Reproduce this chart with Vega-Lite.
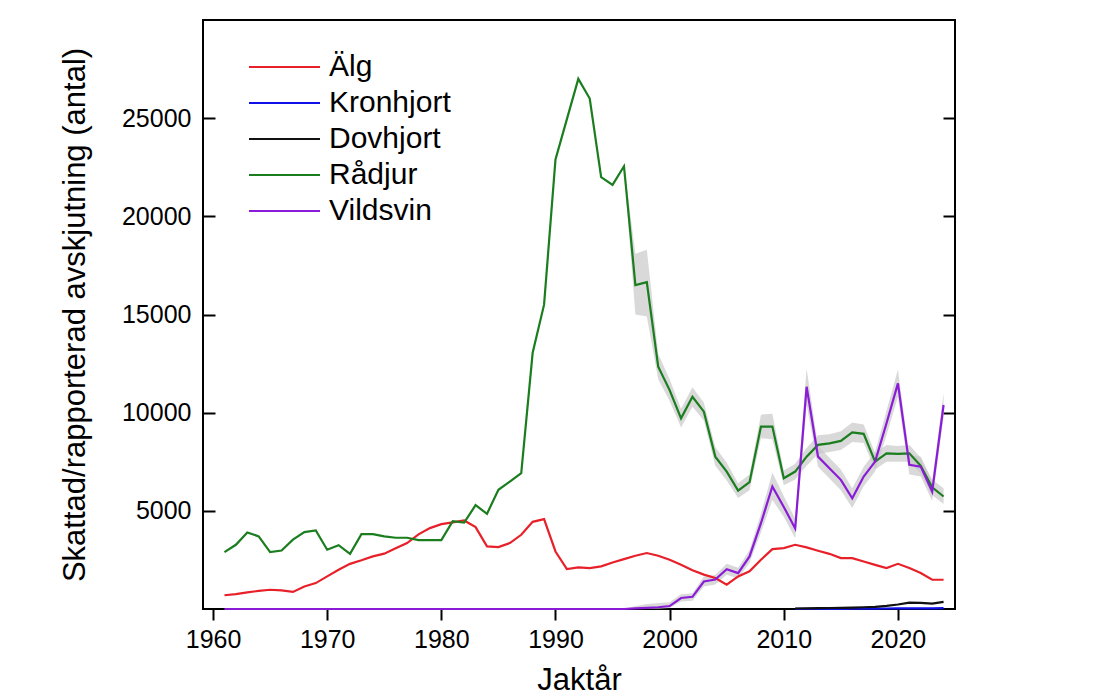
{
  "$schema": "https://vega.github.io/schema/vega-lite/v6.json",
  "width": 752,
  "height": 589,
  "autosize": {"type": "none"},
  "padding": {"left": 203, "top": 20, "right": 142, "bottom": 88},
  "background": "white",
  "config": {
    "font": "Liberation Sans",
    "view": {"stroke": "black", "strokeWidth": 2},
    "axis": {"labelColor": "black", "titleColor": "black", "tickColor": "black", "titleFontWeight": "normal", "grid": false, "domain": false}
  },
  "datasets": {
    "series": [
      {"year":1961,"art":"Älg","value":700},{"year":1962,"art":"Älg","value":760},{"year":1963,"art":"Älg","value":850},{"year":1964,"art":"Älg","value":920},{"year":1965,"art":"Älg","value":980},{"year":1966,"art":"Älg","value":950},{"year":1967,"art":"Älg","value":870},{"year":1968,"art":"Älg","value":1150},{"year":1969,"art":"Älg","value":1320},{"year":1970,"art":"Älg","value":1660},
      {"year":1971,"art":"Älg","value":2000},{"year":1972,"art":"Älg","value":2300},{"year":1973,"art":"Älg","value":2480},{"year":1974,"art":"Älg","value":2680},{"year":1975,"art":"Älg","value":2820},{"year":1976,"art":"Älg","value":3090},{"year":1977,"art":"Älg","value":3360},{"year":1978,"art":"Älg","value":3800},{"year":1979,"art":"Älg","value":4120},{"year":1980,"art":"Älg","value":4320},
      {"year":1981,"art":"Älg","value":4410},{"year":1982,"art":"Älg","value":4510},{"year":1983,"art":"Älg","value":4170},{"year":1984,"art":"Älg","value":3190},{"year":1985,"art":"Älg","value":3150},{"year":1986,"art":"Älg","value":3360},{"year":1987,"art":"Älg","value":3780},{"year":1988,"art":"Älg","value":4440},{"year":1989,"art":"Älg","value":4580},{"year":1990,"art":"Älg","value":2930},
      {"year":1991,"art":"Älg","value":2030},{"year":1992,"art":"Älg","value":2120},{"year":1993,"art":"Älg","value":2085},{"year":1994,"art":"Älg","value":2170},{"year":1995,"art":"Älg","value":2370},{"year":1996,"art":"Älg","value":2540},{"year":1997,"art":"Älg","value":2710},{"year":1998,"art":"Älg","value":2850},{"year":1999,"art":"Älg","value":2710},{"year":2000,"art":"Älg","value":2510},
      {"year":2001,"art":"Älg","value":2250},{"year":2002,"art":"Älg","value":1970},{"year":2003,"art":"Älg","value":1750},{"year":2004,"art":"Älg","value":1580},{"year":2005,"art":"Älg","value":1240},{"year":2006,"art":"Älg","value":1660},{"year":2007,"art":"Älg","value":1920},{"year":2008,"art":"Älg","value":2510},{"year":2009,"art":"Älg","value":3050},{"year":2010,"art":"Älg","value":3100},
      {"year":2011,"art":"Älg","value":3270},{"year":2012,"art":"Älg","value":3140},{"year":2013,"art":"Älg","value":2970},{"year":2014,"art":"Älg","value":2810},{"year":2015,"art":"Älg","value":2590},{"year":2016,"art":"Älg","value":2590},{"year":2017,"art":"Älg","value":2420},{"year":2018,"art":"Älg","value":2250},{"year":2019,"art":"Älg","value":2085},{"year":2020,"art":"Älg","value":2300},
      {"year":2021,"art":"Älg","value":2085},{"year":2022,"art":"Älg","value":1830},{"year":2023,"art":"Älg","value":1490},{"year":2024,"art":"Älg","value":1490},

      {"year":2011,"art":"Kronhjort","value":5},{"year":2012,"art":"Kronhjort","value":5},{"year":2013,"art":"Kronhjort","value":10},{"year":2014,"art":"Kronhjort","value":10},{"year":2015,"art":"Kronhjort","value":10},{"year":2016,"art":"Kronhjort","value":15},{"year":2017,"art":"Kronhjort","value":20},{"year":2018,"art":"Kronhjort","value":20},{"year":2019,"art":"Kronhjort","value":25},{"year":2020,"art":"Kronhjort","value":30},{"year":2021,"art":"Kronhjort","value":30},{"year":2022,"art":"Kronhjort","value":35},{"year":2023,"art":"Kronhjort","value":30},{"year":2024,"art":"Kronhjort","value":40},

      {"year":2011,"art":"Dovhjort","value":25},{"year":2012,"art":"Dovhjort","value":35},{"year":2013,"art":"Dovhjort","value":40},{"year":2014,"art":"Dovhjort","value":50},{"year":2015,"art":"Dovhjort","value":60},{"year":2016,"art":"Dovhjort","value":70},{"year":2017,"art":"Dovhjort","value":90},{"year":2018,"art":"Dovhjort","value":110},{"year":2019,"art":"Dovhjort","value":160},{"year":2020,"art":"Dovhjort","value":230},{"year":2021,"art":"Dovhjort","value":320},{"year":2022,"art":"Dovhjort","value":310},{"year":2023,"art":"Dovhjort","value":270},{"year":2024,"art":"Dovhjort","value":360},

      {"year":1961,"art":"Rådjur","value":2900},{"year":1962,"art":"Rådjur","value":3270},{"year":1963,"art":"Rådjur","value":3900},{"year":1964,"art":"Rådjur","value":3700},{"year":1965,"art":"Rådjur","value":2900},{"year":1966,"art":"Rådjur","value":2980},{"year":1967,"art":"Rådjur","value":3530},{"year":1968,"art":"Rådjur","value":3920},{"year":1969,"art":"Rådjur","value":4000},{"year":1970,"art":"Rådjur","value":3020},
      {"year":1971,"art":"Rådjur","value":3250},{"year":1972,"art":"Rådjur","value":2810},{"year":1973,"art":"Rådjur","value":3810},{"year":1974,"art":"Rådjur","value":3810},{"year":1975,"art":"Rådjur","value":3700},{"year":1976,"art":"Rådjur","value":3630},{"year":1977,"art":"Rådjur","value":3630},{"year":1978,"art":"Rådjur","value":3510},{"year":1979,"art":"Rådjur","value":3510},{"year":1980,"art":"Rådjur","value":3510},
      {"year":1981,"art":"Rådjur","value":4470},{"year":1982,"art":"Rådjur","value":4400},{"year":1983,"art":"Rådjur","value":5290},{"year":1984,"art":"Rådjur","value":4850},{"year":1985,"art":"Rådjur","value":6070},{"year":1986,"art":"Rådjur","value":6490},{"year":1987,"art":"Rådjur","value":6920},{"year":1988,"art":"Rådjur","value":13050},{"year":1989,"art":"Rådjur","value":15500},{"year":1990,"art":"Rådjur","value":22900},
      {"year":1991,"art":"Rådjur","value":24950},{"year":1992,"art":"Rådjur","value":27000},{"year":1993,"art":"Rådjur","value":26000},{"year":1994,"art":"Rådjur","value":22000},{"year":1995,"art":"Rådjur","value":21600},{"year":1996,"art":"Rådjur","value":22550},{"year":1997,"art":"Rådjur","value":16500},{"year":1998,"art":"Rådjur","value":16650},{"year":1999,"art":"Rådjur","value":12340},{"year":2000,"art":"Rådjur","value":11150},
      {"year":2001,"art":"Rådjur","value":9710},{"year":2002,"art":"Rådjur","value":10810},{"year":2003,"art":"Rådjur","value":10050},{"year":2004,"art":"Rådjur","value":7760},{"year":2005,"art":"Rådjur","value":7000},{"year":2006,"art":"Rådjur","value":6030},{"year":2007,"art":"Rådjur","value":6460},{"year":2008,"art":"Rådjur","value":9290},{"year":2009,"art":"Rådjur","value":9290},{"year":2010,"art":"Rådjur","value":6660},
      {"year":2011,"art":"Rådjur","value":7000},{"year":2012,"art":"Rådjur","value":7760},{"year":2013,"art":"Rådjur","value":8360},{"year":2014,"art":"Rådjur","value":8440},{"year":2015,"art":"Rådjur","value":8560},{"year":2016,"art":"Rådjur","value":9000},{"year":2017,"art":"Rådjur","value":8920},{"year":2018,"art":"Rådjur","value":7510},{"year":2019,"art":"Rådjur","value":7930},{"year":2020,"art":"Rådjur","value":7900},
      {"year":2021,"art":"Rådjur","value":7930},{"year":2022,"art":"Rådjur","value":7290},{"year":2023,"art":"Rådjur","value":6200},{"year":2024,"art":"Rådjur","value":5730},

      {"year":1961,"art":"Vildsvin","value":0},{"year":1970,"art":"Vildsvin","value":0},{"year":1980,"art":"Vildsvin","value":0},{"year":1990,"art":"Vildsvin","value":0},{"year":1996,"art":"Vildsvin","value":0},{"year":1997,"art":"Vildsvin","value":30},{"year":1998,"art":"Vildsvin","value":60},{"year":1999,"art":"Vildsvin","value":90},{"year":2000,"art":"Vildsvin","value":150},
      {"year":2001,"art":"Vildsvin","value":560},{"year":2002,"art":"Vildsvin","value":620},{"year":2003,"art":"Vildsvin","value":1400},{"year":2004,"art":"Vildsvin","value":1500},{"year":2005,"art":"Vildsvin","value":2030},{"year":2006,"art":"Vildsvin","value":1830},{"year":2007,"art":"Vildsvin","value":2680},{"year":2008,"art":"Vildsvin","value":4370},{"year":2009,"art":"Vildsvin","value":6240},{"year":2010,"art":"Vildsvin","value":5200},
      {"year":2011,"art":"Vildsvin","value":4100},{"year":2012,"art":"Vildsvin","value":11320},{"year":2013,"art":"Vildsvin","value":7760},{"year":2014,"art":"Vildsvin","value":7170},{"year":2015,"art":"Vildsvin","value":6580},{"year":2016,"art":"Vildsvin","value":5640},{"year":2017,"art":"Vildsvin","value":6750},{"year":2018,"art":"Vildsvin","value":7510},{"year":2019,"art":"Vildsvin","value":9460},{"year":2020,"art":"Vildsvin","value":11490},
      {"year":2021,"art":"Vildsvin","value":7340},{"year":2022,"art":"Vildsvin","value":7250},{"year":2023,"art":"Vildsvin","value":5980},{"year":2024,"art":"Vildsvin","value":10390}
    ],
    "band": [
      {"year":1996,"art":"Rådjur","lo":22400,"hi":22650},{"year":1997,"art":"Rådjur","lo":15000,"hi":18100},{"year":1998,"art":"Rådjur","lo":14900,"hi":18300},{"year":1999,"art":"Rådjur","lo":11700,"hi":13000},{"year":2000,"art":"Rådjur","lo":10600,"hi":11700},
      {"year":2001,"art":"Rådjur","lo":9250,"hi":10200},{"year":2002,"art":"Rådjur","lo":10300,"hi":11300},{"year":2003,"art":"Rådjur","lo":9600,"hi":10500},{"year":2004,"art":"Rådjur","lo":7300,"hi":8250},{"year":2005,"art":"Rådjur","lo":6550,"hi":7450},
      {"year":2006,"art":"Rådjur","lo":5650,"hi":6400},{"year":2007,"art":"Rådjur","lo":6050,"hi":6850},{"year":2008,"art":"Rådjur","lo":8700,"hi":9900},{"year":2009,"art":"Rådjur","lo":8650,"hi":9950},{"year":2010,"art":"Rådjur","lo":6300,"hi":7050},
      {"year":2011,"art":"Rådjur","lo":6600,"hi":7400},{"year":2012,"art":"Rådjur","lo":7300,"hi":8200},{"year":2013,"art":"Rådjur","lo":7900,"hi":8850},{"year":2014,"art":"Rådjur","lo":8000,"hi":8900},{"year":2015,"art":"Rådjur","lo":8100,"hi":9050},
      {"year":2016,"art":"Rådjur","lo":8500,"hi":9500},{"year":2017,"art":"Rådjur","lo":8450,"hi":9400},{"year":2018,"art":"Rådjur","lo":7100,"hi":7950},{"year":2019,"art":"Rådjur","lo":7500,"hi":8350},{"year":2020,"art":"Rådjur","lo":7500,"hi":8300},
      {"year":2021,"art":"Rådjur","lo":7500,"hi":8350},{"year":2022,"art":"Rådjur","lo":6900,"hi":7700},{"year":2023,"art":"Rådjur","lo":5800,"hi":6600},{"year":2024,"art":"Rådjur","lo":5350,"hi":6150},

      {"year":1996,"art":"Vildsvin","lo":0,"hi":0},{"year":1997,"art":"Vildsvin","lo":0,"hi":150},{"year":1998,"art":"Vildsvin","lo":0,"hi":250},{"year":1999,"art":"Vildsvin","lo":0,"hi":300},{"year":2000,"art":"Vildsvin","lo":50,"hi":350},
      {"year":2001,"art":"Vildsvin","lo":380,"hi":750},{"year":2002,"art":"Vildsvin","lo":420,"hi":800},{"year":2003,"art":"Vildsvin","lo":1150,"hi":1650},{"year":2004,"art":"Vildsvin","lo":1250,"hi":1750},{"year":2005,"art":"Vildsvin","lo":1750,"hi":2300},
      {"year":2006,"art":"Vildsvin","lo":1550,"hi":2100},{"year":2007,"art":"Vildsvin","lo":2350,"hi":3000},{"year":2008,"art":"Vildsvin","lo":3900,"hi":4850},{"year":2009,"art":"Vildsvin","lo":5550,"hi":6950},{"year":2010,"art":"Vildsvin","lo":4700,"hi":5750},
      {"year":2011,"art":"Vildsvin","lo":3600,"hi":4600},{"year":2012,"art":"Vildsvin","lo":10400,"hi":12250},{"year":2013,"art":"Vildsvin","lo":7250,"hi":8300},{"year":2014,"art":"Vildsvin","lo":6650,"hi":7700},{"year":2015,"art":"Vildsvin","lo":6050,"hi":7100},
      {"year":2016,"art":"Vildsvin","lo":5150,"hi":6150},{"year":2017,"art":"Vildsvin","lo":6250,"hi":7250},{"year":2018,"art":"Vildsvin","lo":7000,"hi":8000},{"year":2019,"art":"Vildsvin","lo":8850,"hi":10100},{"year":2020,"art":"Vildsvin","lo":10800,"hi":12200},
      {"year":2021,"art":"Vildsvin","lo":6850,"hi":7850},{"year":2022,"art":"Vildsvin","lo":6750,"hi":7750},{"year":2023,"art":"Vildsvin","lo":5500,"hi":6500},{"year":2024,"art":"Vildsvin","lo":9750,"hi":11000}
    ]
  },
  "layer": [
    {
      "data": {"name": "band"},
      "mark": {"type": "area", "color": "#c4c4c4", "opacity": 0.65},
      "encoding": {
        "x": {"field": "year", "type": "quantitative", "scale": {"domain": [1959.12, 2025.0], "nice": false, "zero": false},
          "axis": {"values": [1960,1970,1980,1990,2000,2010,2020], "format": "d", "title": "Jaktår", "tickSize": 11, "tickWidth": 2, "labelFontSize": 25, "labelPadding": 7, "labelFlush": false, "titleFontSize": 31, "titlePadding": 13}},
        "y": {"field": "lo", "type": "quantitative", "scale": {"domain": [0, 30000], "nice": false},
          "axis": {"orient": "left", "values": [5000,10000,15000,20000,25000], "format": "d", "title": "Skattad/rapporterad avskjutning (antal)", "tickSize": -12, "tickWidth": 2, "labelFontSize": 25, "labelPadding": 24, "titleFontSize": 31, "titlePadding": 30}},
        "y2": {"field": "hi"},
        "detail": {"field": "art"}
      }
    },
    {
      "data": {"name": "series"},
      "mark": {"type": "line", "strokeWidth": 2.2},
      "encoding": {
        "x": {"field": "year", "type": "quantitative"},
        "y": {"field": "value", "type": "quantitative",
          "axis": {"orient": "right", "values": [5000,10000,15000,20000,25000], "labels": false, "title": null, "tickSize": -12, "tickWidth": 2}},
        "color": {"field": "art", "type": "nominal",
          "scale": {"domain": ["Älg","Kronhjort","Dovhjort","Rådjur","Vildsvin"], "range": ["#e8202a","#1010e8","#111111","#1a7d1e","#8a1bd6"]},
          "legend": {"title": null, "orient": "none", "legendX": 45, "legendY": 29, "symbolType": "stroke", "symbolSize": 5041, "symbolStrokeWidth": 2, "labelFontSize": 30, "labelOffset": 8, "clipHeight": 36, "rowPadding": 0, "padding": 0, "labelColor": "black"}}
      }
    }
  ],
  "resolve": {"axis": {"y": "independent"}}
}
